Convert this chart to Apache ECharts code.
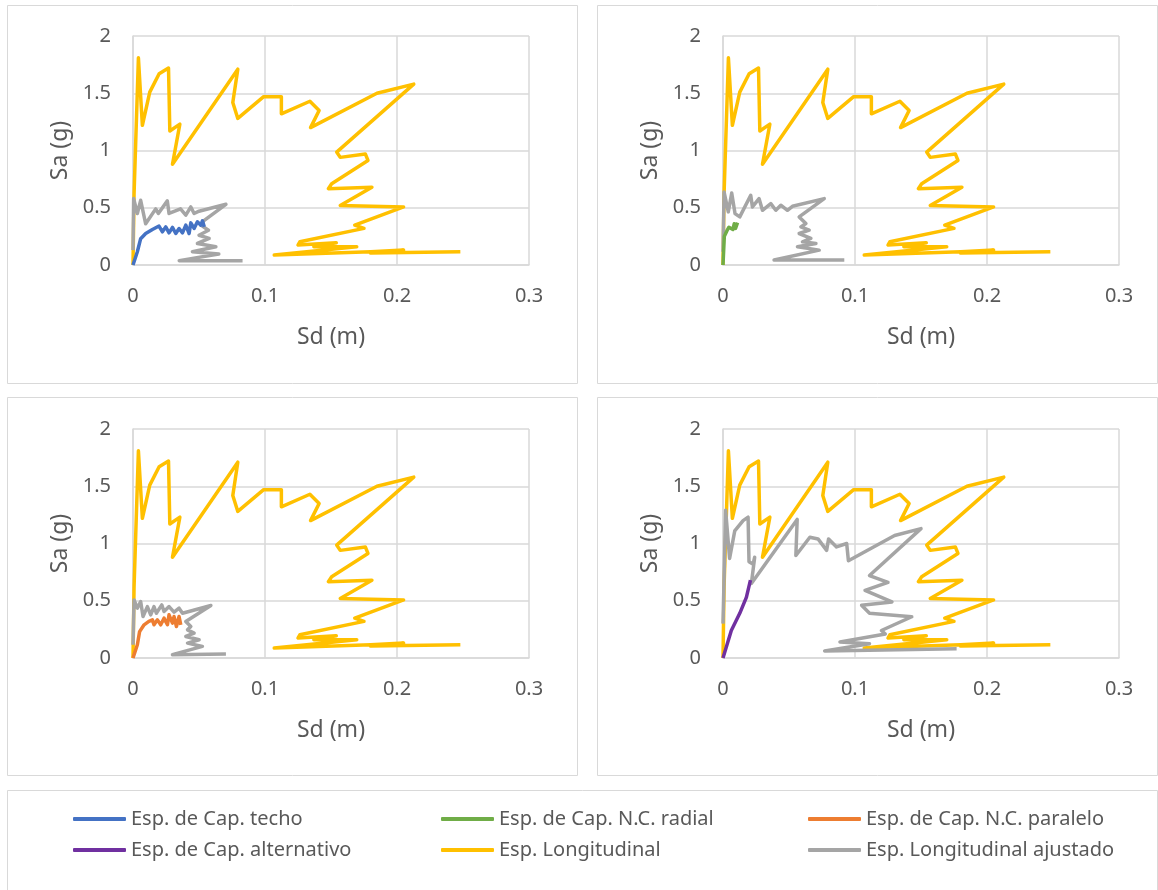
<!DOCTYPE html>
<html>
<head>
<meta charset="utf-8">
<script src="https://cdn.jsdelivr.net/npm/echarts@6/dist/echarts.min.js"></script>
<style>html,body{margin:0;padding:0;background:#fff;}#c{width:1158px;height:890px;}</style>
</head>
<body>
<div id="c"></div>
<script>
// Esp. Longitudinal (same in every panel)
const longitudinal = [[0,0],[0.0008,0.62],[0.0041,1.81],[0.0071,1.22],[0.0127,1.51],[0.0198,1.67],[0.0269,1.72],[0.0279,1.17],[0.0355,1.23],[0.0299,0.88],[0.0794,1.71],[0.0756,1.42],[0.0794,1.28],[0.099,1.47],[0.1124,1.47],[0.1124,1.32],[0.134,1.43],[0.141,1.35],[0.1345,1.20],[0.1848,1.50],[0.2127,1.58],[0.1543,0.986],[0.157,0.94],[0.176,0.97],[0.178,0.913],[0.1505,0.71],[0.148,0.667],[0.181,0.68],[0.157,0.52],[0.205,0.507],[0.168,0.348],[0.175,0.32],[0.1264,0.203],[0.125,0.174],[0.154,0.194],[0.137,0.16],[0.1695,0.16],[0.107,0.087],[0.18,0.116],[0.205,0.13],[0.18,0.105],[0.248,0.116]];
// Esp. Longitudinal ajustado, per panel
const ajustado1 = [[0,0.13],[0.0005,0.58],[0.0033,0.45],[0.0058,0.565],[0.0096,0.36],[0.0172,0.49],[0.0192,0.45],[0.026,0.56],[0.0273,0.45],[0.036,0.49],[0.040,0.435],[0.0438,0.507],[0.0463,0.45],[0.050,0.47],[0.0704,0.53],[0.054,0.39],[0.0514,0.348],[0.0572,0.304],[0.050,0.26],[0.0577,0.232],[0.0488,0.188],[0.0628,0.16],[0.045,0.116],[0.065,0.096],[0.035,0.038],[0.083,0.038]];
const ajustado2 = [[0,0.116],[0.0008,0.638],[0.004,0.464],[0.0066,0.629],[0.0091,0.449],[0.0127,0.42],[0.021,0.609],[0.0223,0.507],[0.0273,0.58],[0.0299,0.478],[0.0362,0.536],[0.040,0.478],[0.0438,0.522],[0.0488,0.478],[0.0526,0.513],[0.0767,0.58],[0.0577,0.42],[0.0628,0.362],[0.059,0.333],[0.0653,0.304],[0.0577,0.275],[0.0666,0.232],[0.0602,0.203],[0.0704,0.188],[0.0564,0.159],[0.0729,0.13],[0.0387,0.043],[0.0919,0.043]];
const ajustado3 = [[0,0.116],[0.0008,0.507],[0.0033,0.435],[0.0058,0.493],[0.0076,0.362],[0.0109,0.449],[0.0134,0.377],[0.0159,0.449],[0.0177,0.391],[0.0218,0.464],[0.0235,0.406],[0.0273,0.449],[0.0311,0.4],[0.0349,0.435],[0.0375,0.391],[0.059,0.458],[0.04,0.319],[0.0438,0.275],[0.0413,0.246],[0.0463,0.217],[0.04,0.188],[0.0501,0.159],[0.0413,0.13],[0.0526,0.101],[0.0299,0.029],[0.0704,0.035]];
const ajustado4 = [[0,0.30],[0.002,1.29],[0.005,0.87],[0.0089,1.11],[0.0152,1.20],[0.019,1.23],[0.0197,0.84],[0.0228,0.82],[0.024,0.88],[0.0215,0.65],[0.0562,1.21],[0.0552,0.895],[0.0658,1.055],[0.072,1.04],[0.0785,0.94],[0.080,1.04],[0.086,0.97],[0.0937,1.00],[0.095,0.85],[0.130,1.07],[0.150,1.13],[0.111,0.72],[0.125,0.66],[0.1076,0.59],[0.128,0.49],[0.105,0.46],[0.111,0.39],[0.143,0.36],[0.120,0.24],[0.123,0.21],[0.0886,0.14],[0.111,0.125],[0.077,0.061],[0.177,0.081]];
// Capacity spectra
const capTecho = [[0,0],[0.0033,0.116],[0.0058,0.23],[0.0096,0.275],[0.0147,0.31],[0.0197,0.34],[0.0223,0.29],[0.0248,0.333],[0.0273,0.281],[0.0299,0.328],[0.0324,0.275],[0.0349,0.319],[0.0375,0.281],[0.040,0.348],[0.0425,0.275],[0.0438,0.368],[0.0463,0.319],[0.0488,0.377],[0.0514,0.348],[0.0526,0.386],[0.054,0.333]];
const capRadial = [[0,0],[0.001,0.25],[0.003,0.30],[0.0045,0.33],[0.006,0.34],[0.0075,0.31],[0.0085,0.36],[0.0095,0.32],[0.011,0.37]];
const capParalelo = [[0,0],[0.0033,0.116],[0.005,0.23],[0.0084,0.29],[0.012,0.32],[0.0147,0.333],[0.0159,0.29],[0.0185,0.333],[0.021,0.29],[0.0235,0.348],[0.0261,0.29],[0.0273,0.377],[0.0299,0.304],[0.0311,0.362],[0.0329,0.275],[0.0349,0.362],[0.0362,0.29]];
const capAlternativo = [[0,0],[0.0063,0.24],[0.0076,0.27],[0.0127,0.39],[0.0177,0.53],[0.0208,0.68]];

const names = ['Esp. de Cap. techo','Esp. de Cap. N.C. radial','Esp. de Cap. N.C. paralelo','Esp. de Cap. alternativo','Esp. Longitudinal','Esp. Longitudinal ajustado'];
const colors = {'Esp. de Cap. techo':'#4472C4','Esp. de Cap. N.C. radial':'#70AD47','Esp. de Cap. N.C. paralelo':'#ED7D31','Esp. de Cap. alternativo':'#7030A0','Esp. Longitudinal':'#FFC000','Esp. Longitudinal ajustado':'#A5A5A5'};

const FONT = 'Noto Sans';
const txt = '#595959';
const gridC = '#d9d9d9';
const grids = [
  {left:133, top:36, width:396, height:229},
  {left:723, top:36, width:396, height:229},
  {left:133, top:429, width:396, height:229},
  {left:723, top:429, width:396, height:229}
];
const panels = [
  {aj: ajustado1, cap: capTecho, capName: names[0]},
  {aj: ajustado2, cap: capRadial, capName: names[1]},
  {aj: ajustado3, cap: capParalelo, capName: names[2]},
  {aj: ajustado4, cap: capAlternativo, capName: names[3]}
];
const xAxes = grids.map((g,i)=>({
  type:'value', gridIndex:i, min:0, max:0.3, interval:0.1,
  name:'Sd (m)', nameLocation:'middle', nameGap:61,
  nameTextStyle:{fontFamily:FONT, fontSize:23, color:txt},
  axisLine:{show:true, onZero:false, lineStyle:{color:gridC, width:1.5}},
  axisTick:{show:false},
  axisLabel:{fontFamily:FONT, fontSize:20, color:txt, margin:21},
  splitLine:{show:true, lineStyle:{color:gridC, width:1.5}}
}));
const yAxes = grids.map((g,i)=>({
  type:'value', gridIndex:i, min:0, max:2, interval:0.5,
  name:'Sa (g)', nameLocation:'middle', nameGap:61,
  nameTextStyle:{fontFamily:FONT, fontSize:23, color:txt},
  axisLine:{show:true, lineStyle:{color:gridC, width:1.5}},
  axisTick:{show:false},
  axisLabel:{fontFamily:FONT, fontSize:20, color:txt, margin:22},
  splitLine:{show:true, lineStyle:{color:gridC, width:1.5}}
}));
const series = [];
panels.forEach((p,i)=>{
  const mk = (name,data)=>({name, type:'line', xAxisIndex:i, yAxisIndex:i, data, showSymbol:false, symbol:'none',
    lineStyle:{width:3.5, color:colors[name], join:'round'}, itemStyle:{color:colors[name]}, animation:false, silent:true});
  series.push(mk(names[4], longitudinal));
  series.push(mk(names[5], p.aj));
  series.push(mk(p.capName, p.cap));
});
const legendBase = {orient:'vertical', top:809, padding:0, itemWidth:53, itemHeight:4, itemGap:11, icon:'roundRect',
  textStyle:{fontFamily:FONT, fontSize:20, lineHeight:20, color:txt}, selectedMode:false};
const rect = (x,y,w,h)=>({type:'rect', shape:{x:x+0.5,y:y+0.5,width:w,height:h}, style:{fill:'none', stroke:'#d9d9d9', lineWidth:1}, silent:true});
const option = {
  backgroundColor:'#fff',
  animation:false,
  grid: grids,
  xAxis: xAxes,
  yAxis: yAxes,
  series: series,
  legend: [
    Object.assign({}, legendBase, {left:73, data:[names[0], names[3]]}),
    Object.assign({}, legendBase, {left:441, data:[names[1], names[4]]}),
    Object.assign({}, legendBase, {left:808, data:[names[2], names[5]]})
  ],
  graphic: [rect(7,5,570,378), rect(597,5,560,378), rect(7,397,570,378), rect(597,397,560,378), rect(7,790,1150,110)]
};
const chart = echarts.init(document.getElementById('c'), null, {renderer:'canvas'});
chart.setOption(option);
</script>
</body>
</html>
